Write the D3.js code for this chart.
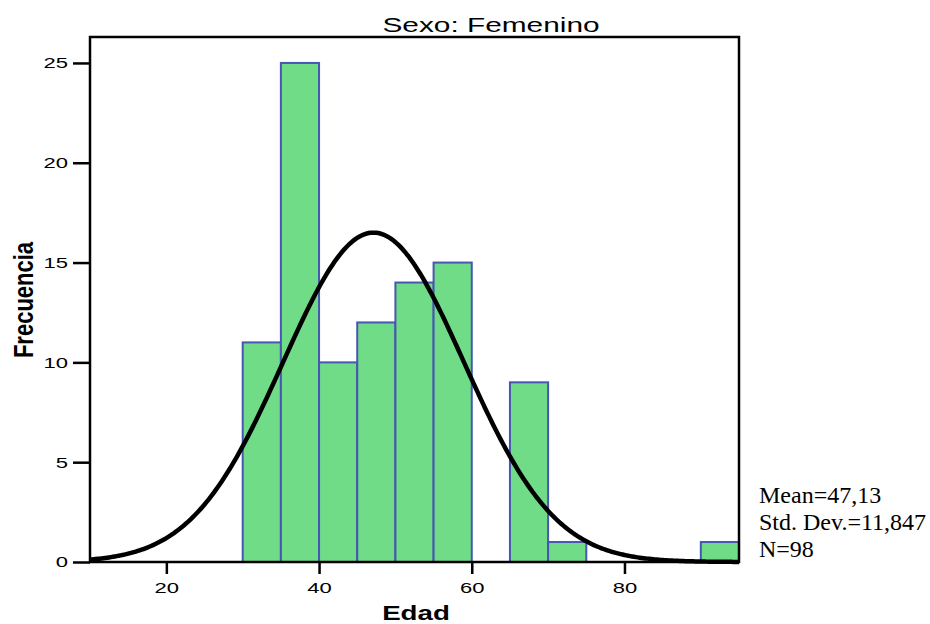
<!DOCTYPE html>
<html>
<head>
<meta charset="utf-8">
<script src="https://cdn.jsdelivr.net/npm/d3@7/dist/d3.min.js"></script>
<style>
  body { margin: 0; background: #fff; }
  svg { display: block; }
  .sans { font-family: "Liberation Sans", Arial, sans-serif; fill: #000; }
  .serif { font-family: "Liberation Serif", "Times New Roman", serif; fill: #000; }
</style>
</head>
<body>
<div id="chart"></div>
<script>
// histogram bins (Edad, width 5) and counts
const binStarts = [30, 35, 40, 45, 50, 55, 60, 65, 70, 75, 80, 85, 90];
const counts    = [11, 25, 10, 12, 14, 15, 0, 9, 1, 0, 0, 0, 1];
const BIN_W = 5;

const xTicks = [20, 40, 60, 80];
const yTicks = [0, 5, 10, 15, 20, 25];

// fitted normal shown on the chart
const MEAN = 47.13, SD = 11.847, N = 98;
const statLines = ["Mean=47,13", "Std. Dev.=11,847", "N=98"];

const W = 930, H = 624;
const SX = 1.42; // sans text in the reference is drawn wide

const svg = d3.select("#chart").append("svg")
  .attr("width", W).attr("height", H);

const x = d3.scaleLinear().domain([10, 95]).range([90, 739]);
const y = d3.scaleLinear().domain([0, 26.3]).range([562, 37]);

function widen(sel, k) {
  sel.each(function () {
    const len = this.getComputedTextLength();
    d3.select(this).attr("textLength", len * k).attr("lengthAdjust", "spacingAndGlyphs");
  });
}

// bars
svg.append("g").selectAll("rect")
  .data(binStarts.map((s, i) => ({ s, c: counts[i] })))
  .join("rect")
  .attr("x", d => x(d.s))
  .attr("y", d => y(d.c))
  .attr("width", d => x(d.s + BIN_W) - x(d.s))
  .attr("height", d => y(0) - y(d.c))
  .attr("fill", "#70dc88")
  .attr("stroke", "#4557b0")
  .attr("stroke-width", 2);

// normal curve scaled to counts
const dens = v => N * BIN_W / (SD * Math.sqrt(2 * Math.PI)) * Math.exp(-0.5 * ((v - MEAN) / SD) ** 2);
const curvePts = d3.range(10, 95.01, 0.25).map(v => [v, dens(v)]);
svg.append("path")
  .datum(curvePts)
  .attr("fill", "none")
  .attr("stroke", "#000")
  .attr("stroke-width", 4.5)
  .attr("d", d3.line().x(d => x(d[0])).y(d => y(d[1])));

// frame
svg.append("rect")
  .attr("x", 90).attr("y", 37)
  .attr("width", 739 - 90).attr("height", 562 - 37)
  .attr("fill", "none").attr("stroke", "#000").attr("stroke-width", 2.5);

// axes
const yAxis = svg.append("g")
  .attr("transform", "translate(90,0)")
  .call(d3.axisLeft(y).tickValues(yTicks).tickSize(17).tickPadding(5).tickFormat(d3.format("d")));
const xAxis = svg.append("g")
  .attr("transform", "translate(0,562)")
  .call(d3.axisBottom(x).tickValues(xTicks).tickSize(12).tickFormat(d3.format("d")));

[yAxis, xAxis].forEach(a => {
  a.select(".domain").remove();
  a.selectAll(".tick line").attr("stroke", "#000").attr("stroke-width", 2.5);
  a.selectAll(".tick text")
    .attr("class", "sans")
    .attr("font-family", null)
    .style("font-size", "15.5px");
});
xAxis.selectAll(".tick text").attr("y", 31).attr("dy", 0);
widen(yAxis.selectAll(".tick text"), SX);
widen(xAxis.selectAll(".tick text"), SX);

// title
const title = svg.append("text").attr("class", "sans")
  .attr("x", 491).attr("y", 32)
  .attr("text-anchor", "middle")
  .style("font-size", "21px")
  .text("Sexo: Femenino");
widen(title, SX);

// axis titles
const xt = svg.append("text").attr("class", "sans")
  .attr("x", 416).attr("y", 620)
  .attr("text-anchor", "middle")
  .style("font-size", "19.5px").style("font-weight", "bold")
  .text("Edad");
widen(xt, SX);

svg.append("text").attr("class", "sans")
  .attr("transform", "translate(33,300) rotate(-90) scale(1,1.25)")
  .attr("text-anchor", "middle")
  .style("font-size", "22px").style("font-weight", "bold")
  .text("Frecuencia");

// stats box
svg.append("g").selectAll("text")
  .data(statLines)
  .join("text")
  .attr("class", "serif")
  .attr("x", 759)
  .attr("y", (d, i) => 503 + i * 27)
  .style("font-size", "24px")
  .text(d => d);
</script>
</body>
</html>
